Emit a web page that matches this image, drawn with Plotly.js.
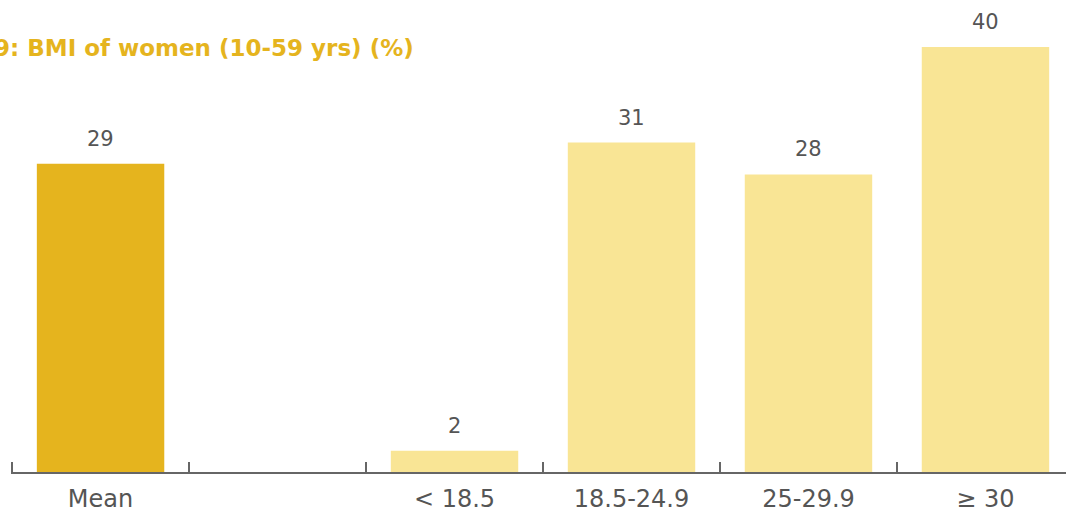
<!DOCTYPE html>
<html><head><meta charset="utf-8">
<script src="https://cdn.plot.ly/plotly-3.0.1.min.js"></script>
<style>html,body{margin:0;padding:0;background:#fff}</style>
</head><body>
<div id="chart" style="width:1066px;height:515px"></div>
<script>
const categories = ["Mean", " ", "< 18.5", "18.5-24.9", "25-29.9", "≥ 30"];
const values = [29, null, 2, 31, 28, 40];
const titleText = "9: BMI of women (10-59 yrs) (%)";

const dark = "#E5B41E", light = "#F9E595";
const colors = categories.map(c => c === "Mean" ? dark : light);
const fontFam = "'DejaVu Sans', sans-serif";

const annotations = [];
categories.forEach((c, i) => {
  if (values[i] === null) return;
  annotations.push({
    x: c, y: values[i], xref: "x", yref: "y",
    text: String(values[i]), showarrow: false,
    yanchor: "bottom", yshift: 11,
    font: {family: fontFam, size: 21, color: "#555"}
  });
});
annotations.push({
  xref: "paper", yref: "paper", x: 0, y: 1, xshift: -19, yshift: -48,
  xanchor: "left", yanchor: "middle", text: titleText, showarrow: false,
  font: {family: fontFam, size: 23, color: dark, weight: 600}
});

Plotly.newPlot("chart", [{
  type: "bar", x: categories, y: values,
  marker: {color: colors}, hoverinfo: "skip"
}], {
  width: 1066, height: 515,
  margin: {l: 11, r: 0, t: 0, b: 43},
  paper_bgcolor: "#fff", plot_bgcolor: "#fff",
  bargap: 0.28, showlegend: false,
  xaxis: {
    type: "category", range: [-0.506, 5.455],
    showline: true, linecolor: "#666", linewidth: 2,
    ticks: "inside", tickson: "boundaries", ticklen: 10, tickwidth: 2, tickcolor: "#666",
    tickfont: {family: fontFam, size: 24, color: "#555"},
    ticklabelstandoff: 4, showgrid: false, zeroline: false
  },
  yaxis: {range: [0, 44.42], visible: false, showgrid: false, zeroline: false},
  annotations: annotations
}, {displayModeBar: false, staticPlot: true});
</script>
</body></html>
